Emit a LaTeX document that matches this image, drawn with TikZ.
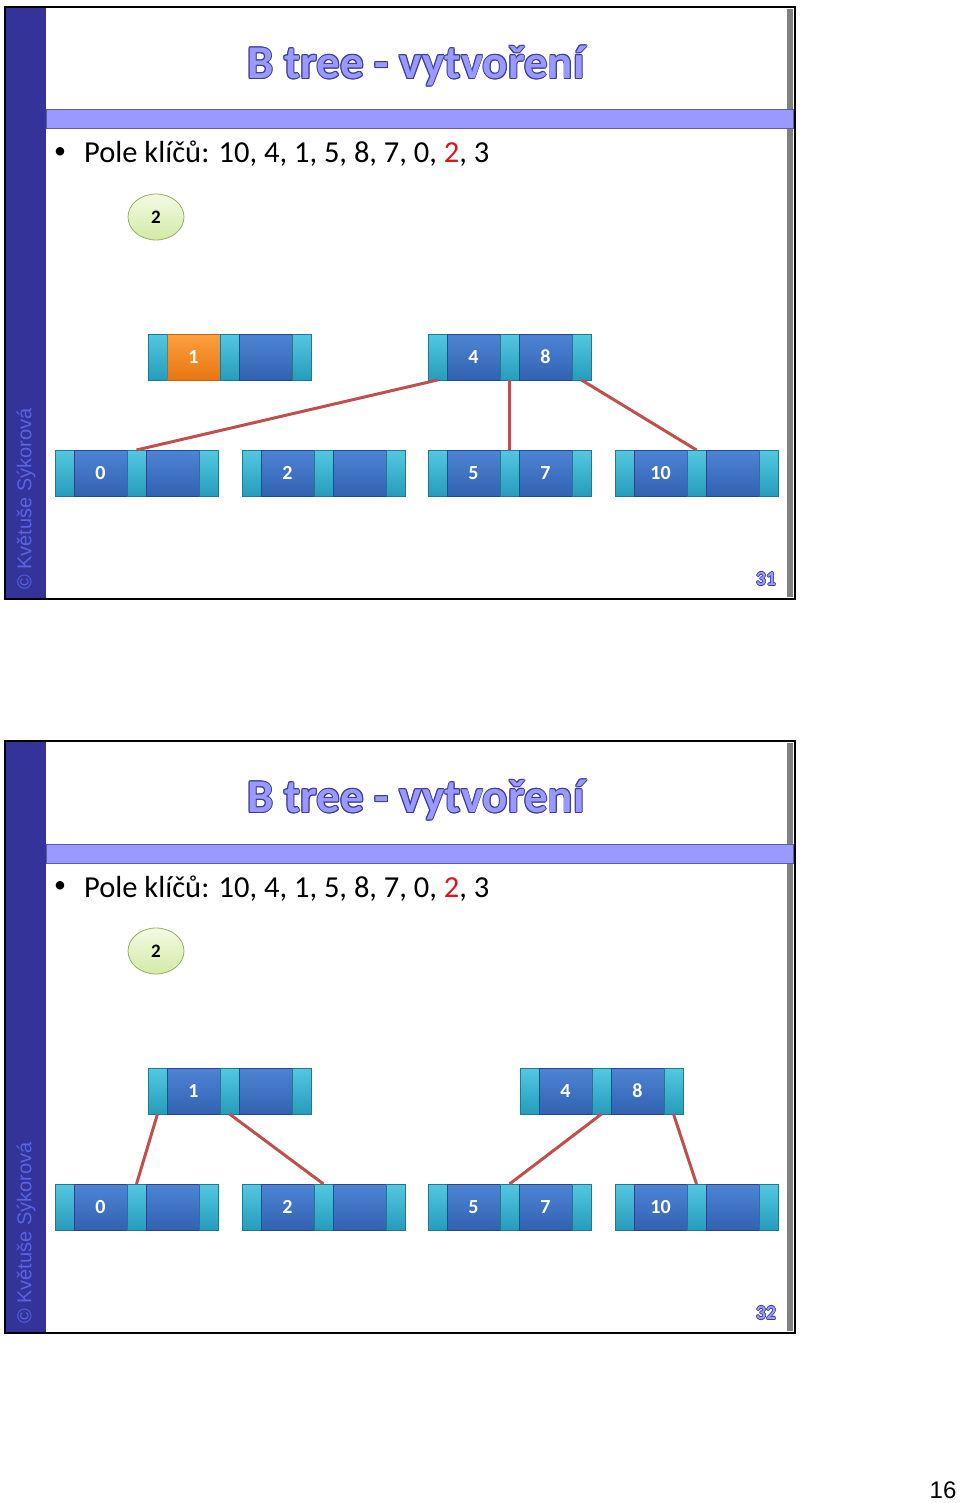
\documentclass[tikz,border=0pt]{standalone}
\usepackage{fontspec}
\setmainfont{Carlito}
\newfontfamily\arialfont{Liberation Sans}
\usetikzlibrary{shapes.geometric}
\definecolor{bardark}{RGB}{51,51,153}
\definecolor{stripe}{RGB}{153,153,255}
\definecolor{stripeedge}{RGB}{90,90,176}
\definecolor{titlefill}{RGB}{153,153,255}
\definecolor{titleline}{RGB}{60,60,150}
\definecolor{copyc}{RGB}{88,100,228}
\definecolor{ptrtop}{RGB}{84,200,224}
\definecolor{ptrbot}{RGB}{38,156,188}
\definecolor{ptredge}{RGB}{30,120,150}
\definecolor{keytop}{RGB}{78,132,212}
\definecolor{keybot}{RGB}{50,98,178}
\definecolor{keyedge}{RGB}{36,70,140}
\definecolor{orgtop}{RGB}{252,160,62}
\definecolor{orgbot}{RGB}{232,118,18}
\definecolor{orgedge}{RGB}{190,100,20}
\definecolor{connc}{RGB}{192,80,77}
\definecolor{elltop}{RGB}{244,250,226}
\definecolor{ellbot}{RGB}{210,234,168}
\definecolor{elledge}{RGB}{150,176,90}
\definecolor{keyred}{RGB}{224,20,20}
\tikzset{
  seg/.style={inner sep=0pt, outer sep=0pt, minimum height=46pt, anchor=north west,
     text=white, font=\bfseries\fontsize{20}{20}\selectfont, line width=0.8pt},
  ptr/.style={seg, minimum width=19pt, top color=ptrtop, bottom color=ptrbot, draw=ptredge},
  key/.style={seg, minimum width=53pt, top color=keytop, bottom color=keybot, draw=keyedge},
  okey/.style={seg, minimum width=53pt, top color=orgtop, bottom color=orgbot, draw=orgedge},
  conn/.style={draw=connc, line width=3pt},
  newkey/.style={ellipse, minimum width=56pt, minimum height=46pt, inner sep=0pt,
     top color=elltop, bottom color=ellbot, draw=elledge, line width=0.8pt,
     font=\bfseries\fontsize{19}{19}\selectfont},
  bullettext/.style={anchor=base west, inner sep=0pt, font=\fontsize{30.5}{30.5}\selectfont},
  copyright/.style={rotate=90, text=copyc, inner sep=0pt, font=\arialfont\fontsize{20}{20}\selectfont},
}
% name, x, y(top), style of key1, key1, key2
\newcommand{\btnode}[6]{%
  \node[ptr] (#1-p1) at (#2,#3) {};
  \node[#4] (#1-k1) at (#1-p1.north east) {#5};
  \node[ptr] (#1-p2) at (#1-k1.north east) {};
  \node[key] (#1-k2) at (#1-p2.north east) {#6};
  \node[ptr] (#1-p3) at (#1-k2.north east) {};
}
% outlined text: name, x, y, font, text, offset
\newcommand{\otext}[6]{%
  \foreach \dx/\dy [count=\i] in {-1/0,1/0,0/-1,0/1,-0.7/-0.7,0.7/0.7,-0.7/0.7,0.7/-0.7}
    \node[inner sep=0pt, text=titleline, font=#4, xshift=#6*\dx pt, yshift=#6*\dy pt] (#1o\i) at (#2,#3) {#5};
  \node[inner sep=0pt, text=titlefill, font=#4] (#1) at (#2,#3) {#5};
}
\newcommand{\slideframe}[2]{% prefix, page number
  \fill[white] (5,7) rectangle (795,599);
  \fill[bardark] (5,7) rectangle (46,599);
  \fill[gray] (787,9) rectangle (793,597);
  \draw[stripeedge, line width=1pt, fill=stripe] (46,110) rectangle (793,129);
  \draw[black, line width=2pt] (5,7) rectangle (795,599);
  \otext{#1title}{416}{66}{\bfseries\fontsize{47}{47}\selectfont}{B tree - vytvoření}{0.9}
  \otext{#1num}{766}{579}{\bfseries\fontsize{20}{20}\selectfont}{#2}{0.6}
  \node[copyright] (#1copy) at (26,499) {© Květuše Sýkorová};
  \node[inner sep=0pt, font=\fontsize{24}{24}\selectfont] (#1bul) at (60,153) {•};
  \node[bullettext] (#1keys) at (84,163) {Pole klíčů: 10, 4, 1, 5, 8, 7, 0, \textcolor{keyred}{2}, 3};
  \node[newkey] (#1new) at (156,217) {2};
}
\begin{document}
\begin{tikzpicture}[x=1pt, y=-1pt]
\useasboundingbox (0,0) rectangle (960,1503);
\fill[white] (0,0) rectangle (960,1503);
% ---------------- slide 31
\slideframe{a}{31}
\btnode{aT1}{148}{334}{okey}{1}{}
\btnode{aT2}{428}{334}{key}{4}{8}
\btnode{aB0}{55}{450}{key}{0}{}
\btnode{aB2}{242}{450}{key}{2}{}
\btnode{aB5}{428}{450}{key}{5}{7}
\btnode{aB10}{615}{450}{key}{10}{}
\draw[conn] (aT2-p1.south) -- (aB0-p2.north);
\draw[conn] (aT2-p2.south) -- (aB5-p2.north);
\draw[conn] (aT2-p3.south) -- (aB10-p2.north);
% ---------------- slide 32
\begin{scope}[yshift=-734pt]
\slideframe{b}{32}
\btnode{bT1}{148}{334}{key}{1}{}
\btnode{bT2}{520}{334}{key}{4}{8}
\btnode{bB0}{55}{450}{key}{0}{}
\btnode{bB2}{242}{450}{key}{2}{}
\btnode{bB5}{428}{450}{key}{5}{7}
\btnode{bB10}{615}{450}{key}{10}{}
\draw[conn] (bT1-p1.south) -- (bB0-p2.north);
\draw[conn] (bT1-p2.south) -- (bB2-p2.north);
\draw[conn] (bT2-p2.south) -- (bB5-p2.north);
\draw[conn] (bT2-p3.south) -- (bB10-p2.north);
\end{scope}
\node[inner sep=0pt, font=\arialfont\fontsize{24}{24}\selectfont] (pagenum) at (943,1490) {16};
\end{tikzpicture}
\end{document}
